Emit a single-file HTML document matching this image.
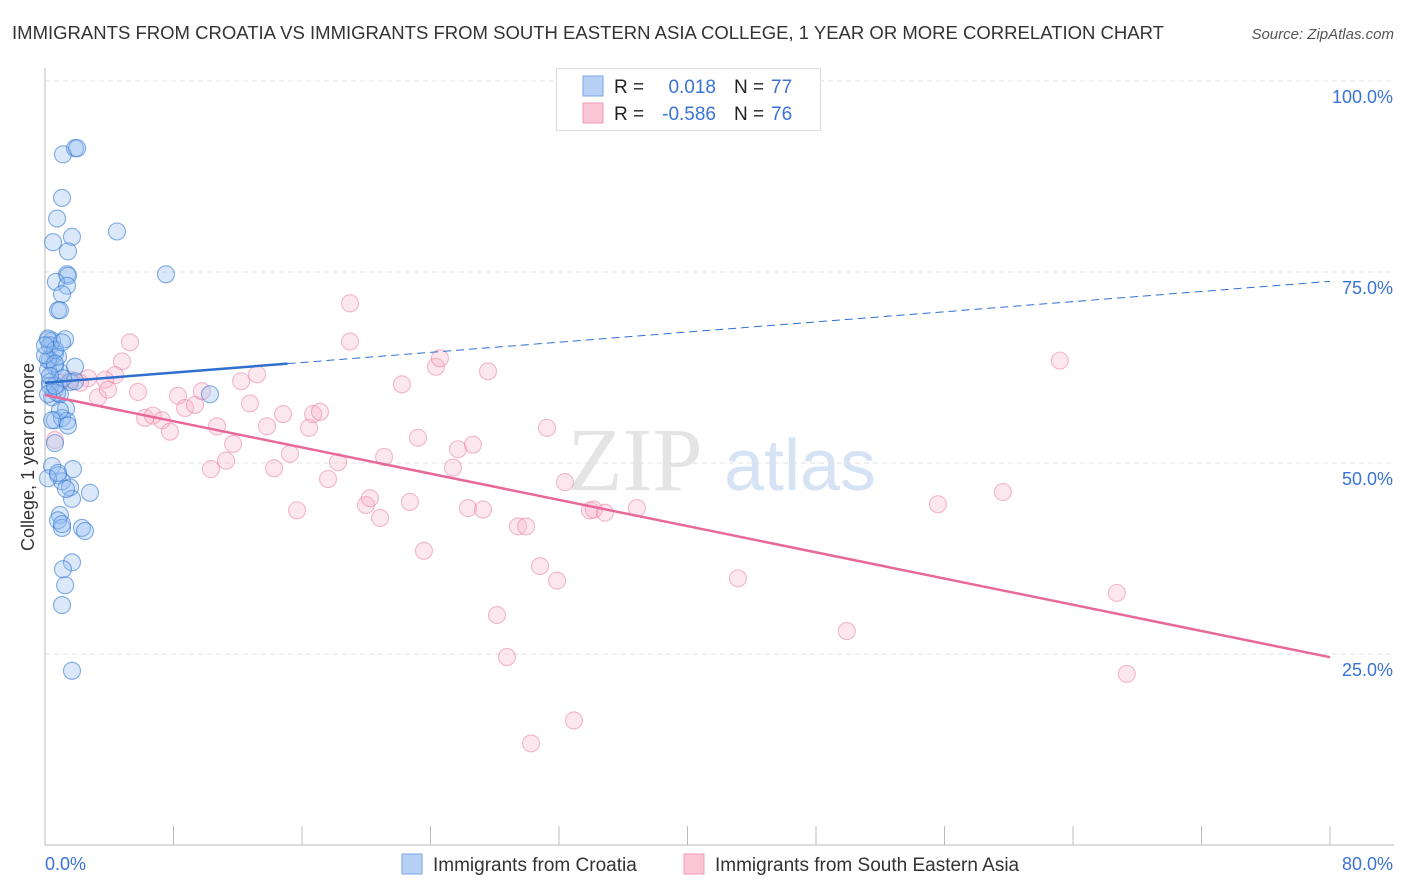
<!DOCTYPE html>
<html><head><meta charset="utf-8">
<style>
body{margin:0;background:#fff;font-family:"Liberation Sans",sans-serif;}
svg{display:block}
</style></head>
<body>
<svg id="chart" width="1406" height="892" xmlns="http://www.w3.org/2000/svg">
<text x="12" y="39" font-size="18.5" fill="#333" textLength="1152" lengthAdjust="spacingAndGlyphs">IMMIGRANTS FROM CROATIA VS IMMIGRANTS FROM SOUTH EASTERN ASIA COLLEGE, 1 YEAR OR MORE CORRELATION CHART</text>
<text x="1394" y="39" font-size="15" fill="#555" font-style="italic" text-anchor="end">Source: ZipAtlas.com</text>
<text x="635" y="490" font-size="90" fill="#e4e4e4" font-family="Liberation Serif,serif" text-anchor="middle">ZIP</text>
<text x="800" y="490" font-size="72" fill="#d6e3f5" text-anchor="middle">atlas</text>
<g id="grid"></g>
<line x1="45" y1="68" x2="45" y2="845" stroke="#bbb"/>
<line x1="45" y1="845" x2="1394" y2="845" stroke="#bbb"/>
<g id="xticks"></g>
<text x="45" y="870" font-size="18" fill="#3a73d6">0.0%</text>
<text x="1393" y="870" font-size="18" fill="#3a73d6" text-anchor="end">80.0%</text>
<text transform="translate(34,457) rotate(-90)" font-size="18" fill="#333" text-anchor="middle">College, 1 year or more</text>
<g id="pts"></g>
<g id="lines"></g>
<g>
<rect x="556.5" y="68.5" width="264" height="62" fill="#fff" stroke="#ddd"/>
<rect x="583" y="76" width="20" height="20" fill="#b7d0f5" stroke="#7aa6e6"/>
<rect x="583" y="103" width="20" height="20" fill="#fac6d6" stroke="#f09ab5"/>
<text x="614" y="93" font-size="19" fill="#222">R =</text><text x="716" y="93" font-size="19" fill="#3a73d6" text-anchor="end">0.018</text>
<text x="734" y="93" font-size="19" fill="#222">N =</text><text x="771" y="93" font-size="19" fill="#3a73d6">77</text>
<text x="614" y="120" font-size="19" fill="#222">R =</text><text x="716" y="120" font-size="19" fill="#3a73d6" text-anchor="end">-0.586</text>
<text x="734" y="120" font-size="19" fill="#222">N =</text><text x="771" y="120" font-size="19" fill="#3a73d6">76</text>
</g>
<g>
<rect x="402" y="854" width="20" height="20" fill="#b7d0f5" stroke="#7aa6e6"/>
<text x="433" y="871" font-size="19" fill="#333">Immigrants from Croatia</text>
<rect x="684" y="854" width="20" height="20" fill="#fac6d6" stroke="#f09ab5"/>
<text x="715" y="871" font-size="19" fill="#333">Immigrants from South Eastern Asia</text>
</g>
</svg>
<script>
const yTicks=[25,50,75,100];
const yTickLabels=["25.0%","50.0%","75.0%","100.0%"];
const xTickVals=[0,8,16,24,32,40,48,56,64,72,80];
const croatiaX=[1.12,1.87,2.0,1.06,0.75,1.68,0.5,1.43,1.37,1.43,0.68,1.37,1.06,0.81,0.93,0.19,0.44,1.25,0.62,0.31,0.62,0.19,1.87,0.93,0.31,1.56,0.62,0.44,0.93,0.31,0.19,0.81,1.31,0.62,1.06,1.37,0.62,0.44,1.74,0.81,1.06,0.19,1.56,2.8,1.68,0.93,0.81,1.06,2.3,2.49,1.68,1.12,1.25,1.06,1.68,4.48,7.53,10.27,0.19,0.62,1.06,0,0,0.31,0.75,1.87,1.12,0.19,0.62,0.93,0.44,1.43,0.81,1.31,1.06,0.62,0.31];
const croatiaY=[90.4,91.2,91.2,84.7,82.0,79.6,78.9,77.7,74.7,74.5,73.7,73.2,72.1,70.0,70.0,66.1,66.0,66.2,64.3,63.5,62.6,62.2,62.6,61.9,60.6,60.6,59.6,58.6,59.0,65.4,66.3,63.9,57.1,55.6,55.9,55.5,52.6,49.6,49.2,48.4,47.6,48.0,46.8,46.1,45.3,43.2,42.5,41.5,41.5,41.1,37.0,36.1,34.0,31.4,22.8,80.3,74.7,59.0,63.5,64.8,65.8,64.1,65.4,60.1,59.2,60.7,61.1,59.0,63.0,56.9,55.6,54.9,48.7,46.6,42.0,60.1,61.4];
const seaX=[5.29,4.79,4.36,3.74,2.68,2.18,1.56,0.93,0.62,3.30,3.92,5.79,6.23,6.72,7.28,7.78,8.28,8.72,9.34,9.77,10.33,10.71,11.27,11.71,12.21,12.76,13.20,13.82,14.26,14.82,15.25,15.69,16.44,16.69,17.12,17.62,18.24,18.99,18.99,19.98,20.23,20.86,21.11,22.22,22.72,23.22,23.59,24.34,24.59,25.40,25.71,26.33,26.64,27.27,27.58,28.14,28.76,29.45,29.95,30.26,30.82,31.25,31.88,32.37,32.93,33.93,34.17,34.86,36.85,43.14,49.92,55.59,59.63,63.18,66.73,67.35];
const seaY=[65.8,63.3,61.5,60.9,61.1,60.5,60.9,60.5,53.0,58.6,59.6,59.3,55.9,56.2,55.6,54.1,58.8,57.2,57.6,59.4,49.2,54.8,50.3,52.5,60.7,57.8,61.6,54.8,49.3,56.4,51.2,43.8,54.6,56.4,56.7,47.9,50.1,70.9,65.9,44.5,45.4,42.8,50.8,60.3,44.9,53.3,38.5,62.6,63.7,49.4,51.8,44.1,52.4,43.9,62.0,30.1,24.6,41.7,41.7,13.3,36.5,54.6,34.6,47.5,16.3,43.8,43.9,43.5,44.1,34.9,28.0,44.6,46.2,63.4,33.0,22.4];
const trendBlue=[60.5,0.166];  // intercept, slope
const trendPink=[58.9,-0.429];
const blueSolidEnd=15.1;

const NS="http://www.w3.org/2000/svg";
const X0=45,X1=1330,Y0=845,Y100=81;
const sx=v=>X0+(v/80)*(X1-X0);
const sy=v=>Y0-(v/100)*(Y0-Y100);
function mk(tag,attrs,parent){const e=document.createElementNS(NS,tag);for(const k in attrs)e.setAttribute(k,attrs[k]);document.getElementById(parent).appendChild(e);return e;}

yTicks.forEach((t,i)=>{
  const l=mk('line',{x1:X0,x2:1394,y1:sy(t),y2:sy(t),stroke:'#e2e2e2','stroke-dasharray':'5,4'},'grid');
  
  
  const tx=mk('text',{x:1393,y:sy(t)+22,'font-size':18,fill:'#3a73d6','text-anchor':'end'},'grid');
  tx.textContent=yTickLabels[i];
  
  
});
xTickVals.forEach(v=>{
  const l=mk('line',{x1:sx(v),x2:sx(v),y1:826,y2:845,stroke:'#bbb'},'xticks');
  
  
});
seaX.forEach((x,i)=>{
  const c=mk('circle',{cx:sx(x),cy:sy(seaY[i]),r:8.5,fill:'rgba(248,175,198,0.3)',stroke:'rgba(232,120,155,0.5)','stroke-width':1.1},'pts');
  
  
});
croatiaX.forEach((x,i)=>{
  const c=mk('circle',{cx:sx(x),cy:sy(croatiaY[i]),r:8.5,fill:'rgba(150,190,240,0.35)',stroke:'rgba(50,120,210,0.6)','stroke-width':1.1},'pts');
  
  
});
const bf=x=>trendBlue[0]+trendBlue[1]*x, pf=x=>trendPink[0]+trendPink[1]*x;
let l1=mk('line',{x1:sx(0),y1:sy(bf(0)),x2:sx(blueSolidEnd),y2:sy(bf(blueSolidEnd)),stroke:'#2f6fd0','stroke-width':2.5},'lines');


let l2=mk('line',{x1:sx(blueSolidEnd),y1:sy(bf(blueSolidEnd)),x2:sx(80),y2:sy(bf(80)),stroke:'#2f6fd0','stroke-width':1,'stroke-dasharray':'8,5'},'lines');


let l3=mk('line',{x1:sx(0),y1:sy(pf(0)),x2:sx(80),y2:sy(pf(80)),stroke:'#e8689a','stroke-width':2.5},'lines');


</script>
</body></html>
